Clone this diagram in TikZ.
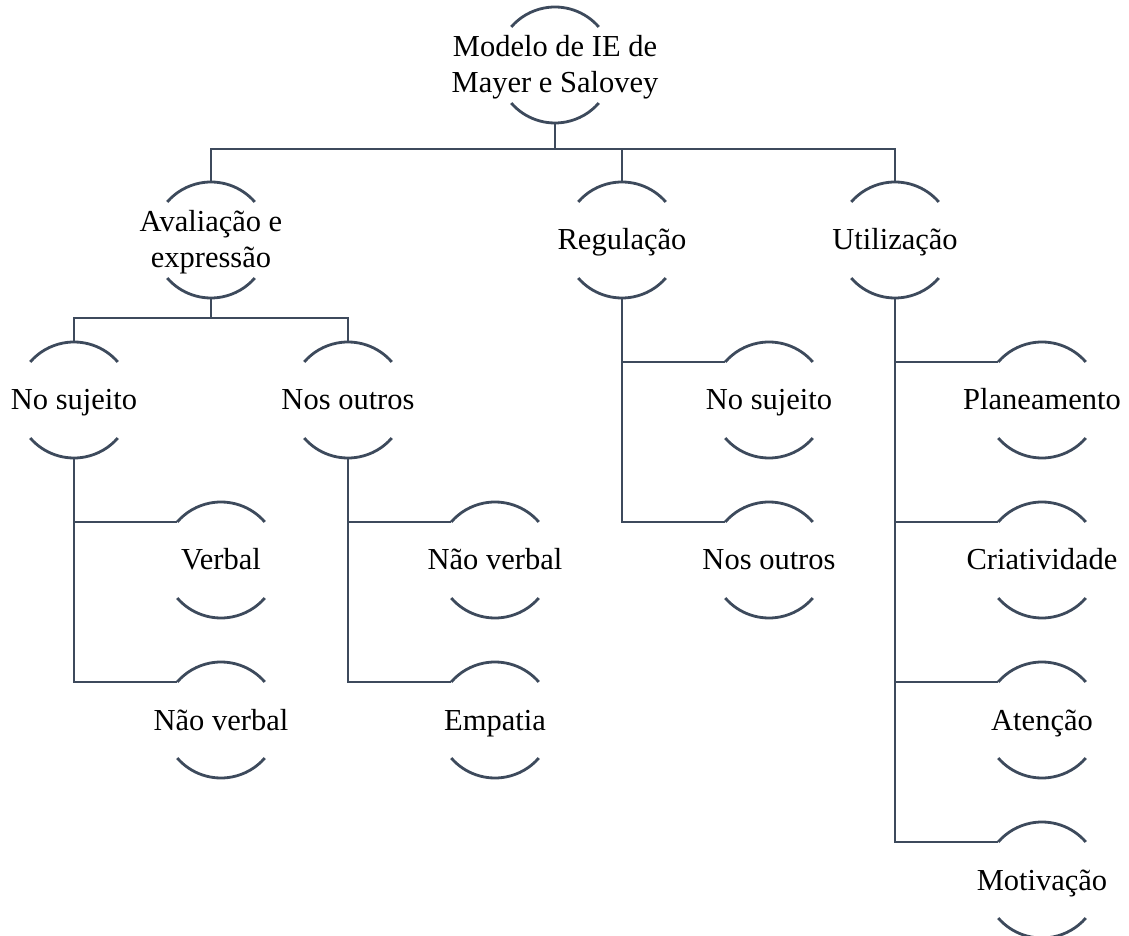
\documentclass[tikz,border=0pt]{standalone}
\usepackage{fontspec}
\setmainfont{Liberation Serif}
\definecolor{iegray}{HTML}{3D4A5C}
\newcommand{\ietextfont}{\fontsize{30.5pt}{36pt}\selectfont}
\tikzset{
  iecirc/.style={circle, minimum size=116pt, inner sep=0pt, outer sep=0pt},
  ietext/.style={font=\ietextfont, align=center, text height=20pt, text depth=0pt, inner sep=0pt},
  ietwo/.style={text height=56pt},
  ieline/.style={line width=2.8pt, draw=iegray},
}
\begin{document}
\begin{tikzpicture}[x=1pt, y=1pt]
  \useasboundingbox (0,0) rectangle (1129,935);
  % niveis 1 e 2
  \node[iecirc, label={[ietext, ietwo]center:{Modelo de IE de\\Mayer e Salovey}}] (mod) at (555,870) {};
  \node[iecirc, label={[ietext, ietwo]center:{Avaliação e\\expressão}}] (ava) at (211,695) {};
  \node[iecirc, label={[ietext]center:Regulação}] (reg) at (622,695) {};
  \node[iecirc, label={[ietext]center:Utilização}] (uti) at (895,695) {};
  % avaliacao
  \node[iecirc, label={[ietext]center:No sujeito}] (suj) at (74,535) {};
  \node[iecirc, label={[ietext]center:Nos outros}] (out) at (348,535) {};
  \node[iecirc, label={[ietext]center:Verbal}] (suj-verb) at (221,375) {};
  \node[iecirc, label={[ietext]center:Não verbal}] (suj-nverb) at (221,215) {};
  \node[iecirc, label={[ietext]center:Não verbal}] (out-nverb) at (495,375) {};
  \node[iecirc, label={[ietext]center:Empatia}] (out-emp) at (495,215) {};
  % regulacao
  \node[iecirc, label={[ietext]center:No sujeito}] (reg-suj) at (769,535) {};
  \node[iecirc, label={[ietext]center:Nos outros}] (reg-out) at (769,375) {};
  % utilizacao
  \node[iecirc, label={[ietext]center:Planeamento}] (plan) at (1042,535) {};
  \node[iecirc, label={[ietext]center:Criatividade}] (cria) at (1042,375) {};
  \node[iecirc, label={[ietext]center:Atenção}] (aten) at (1042,215) {};
  \node[iecirc, label={[ietext]center:Motivação}] (motiv) at (1042,55) {};
  % arcos
  \foreach \n in {mod,ava,reg,uti,suj,out,suj-verb,suj-nverb,out-nverb,out-emp,reg-suj,reg-out,plan,cria,aten,motiv} {
    \draw[ieline] (\n.41) arc[start angle=41, end angle=139, radius=58pt];
    \draw[ieline] (\n.221) arc[start angle=221, end angle=319, radius=58pt];
  }
  % ligacoes
  \coordinate (bus1) at (555,786);
  \coordinate (bus2) at (211,617);
  \draw[ieline] (mod.south) -- (bus1);
  \draw[ieline] (ava.north) |- (bus1) -| (uti.north);
  \draw[ieline] (reg.north) -- (reg.north |- bus1);
  \draw[ieline] (ava.south) -- (bus2);
  \draw[ieline] (suj.north) |- (bus2) -| (out.north);
  \draw[ieline] (suj.south) |- (suj-nverb.139);
  \draw[ieline] (suj.south |- suj-verb.139) -- (suj-verb.139);
  \draw[ieline] (out.south) |- (out-emp.139);
  \draw[ieline] (out.south |- out-nverb.139) -- (out-nverb.139);
  \draw[ieline] (reg.south) |- (reg-out.139);
  \draw[ieline] (reg.south |- reg-suj.139) -- (reg-suj.139);
  \draw[ieline] (uti.south) |- (motiv.139);
  \foreach \c in {plan,cria,aten}
    \draw[ieline] (uti.south |- \c.139) -- (\c.139);
\end{tikzpicture}
\end{document}
